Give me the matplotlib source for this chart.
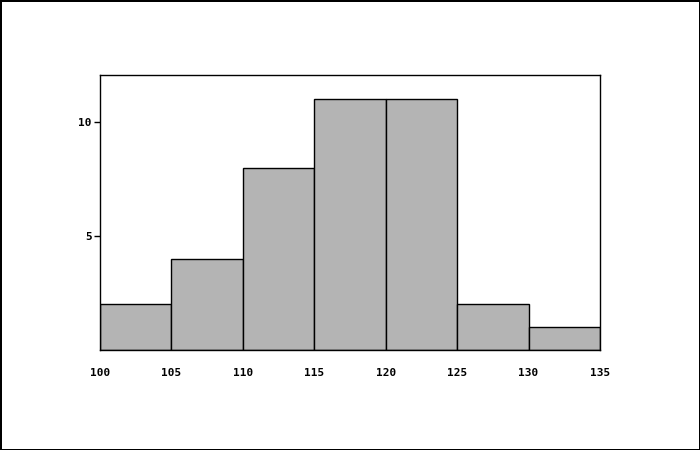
import matplotlib.pyplot as plt

# histogram bins and counts
bin_edges = [100, 105, 110, 115, 120, 125, 130, 135]
counts = [2, 4, 8, 11, 11, 2, 1]
y_ticks = [5, 10]

fig = plt.figure(figsize=(7, 4.5), dpi=100, edgecolor='black', linewidth=1)
ax = fig.add_axes([100 / 700, 100 / 450, 500 / 700, 275 / 450])

widths = [b - a for a, b in zip(bin_edges[:-1], bin_edges[1:])]
ax.bar(bin_edges[:-1], counts, width=widths, align='edge',
       color='#b4b4b4', edgecolor='black', linewidth=1)

ax.set_xlim(bin_edges[0], bin_edges[-1])
ax.set_ylim(0, 12.06)
ax.set_xticks(bin_edges)
ax.set_yticks(y_ticks)

font = dict(family='DejaVu Sans Mono', weight='bold', size=8)
ax.set_xticklabels([str(b) for b in bin_edges], **font)
ax.set_yticklabels([str(t) for t in y_ticks], **font)
ax.tick_params(axis='x', length=0, pad=13)
ax.tick_params(axis='y', length=4, width=1, pad=2)

for s in ax.spines.values():
    s.set_linewidth(1)

fig.savefig('out.png', dpi=100, edgecolor=fig.get_edgecolor())
